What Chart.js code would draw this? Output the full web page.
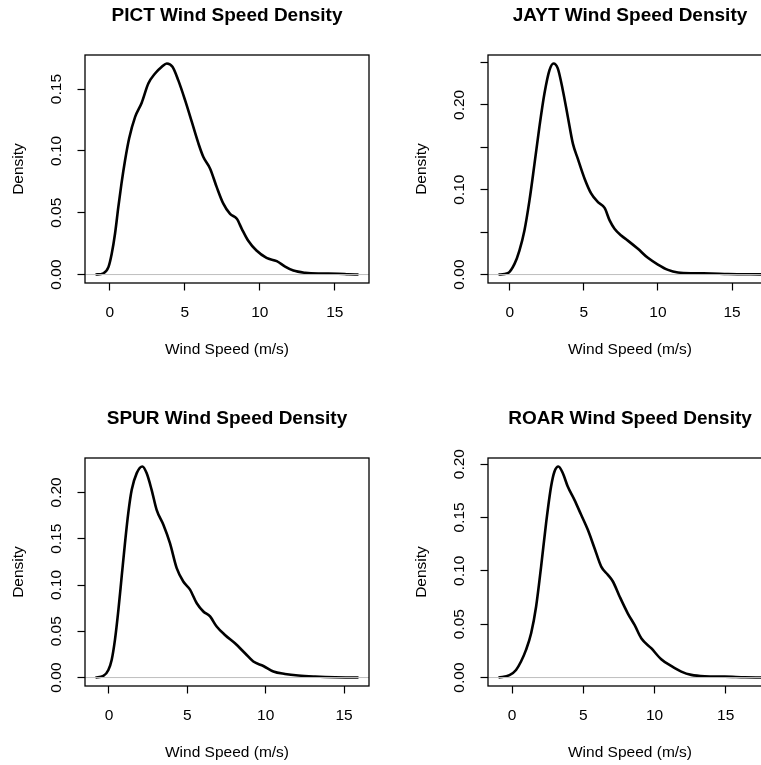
<!DOCTYPE html>
<html>
<head>
<meta charset="utf-8">
<script src="https://cdn.jsdelivr.net/npm/chart.js@4.4.1/dist/chart.umd.min.js"></script>
<style>
  html, body { margin: 0; padding: 0; background: #fff; overflow: hidden; }
  #quadro { position: relative; width: 761px; height: 765px; overflow: hidden; }
  .painel { position: absolute; width: 403px; height: 403px; }
</style>
</head>
<body>
<div id="quadro">
  <div class="painel" style="left:0;top:0"><canvas id="pict" width="403" height="403"></canvas></div>
  <div class="painel" style="left:403px;top:0"><canvas id="jayt" width="403" height="403"></canvas></div>
  <div class="painel" style="left:0;top:403px"><canvas id="spur" width="403" height="403"></canvas></div>
  <div class="painel" style="left:403px;top:403px"><canvas id="roar" width="403" height="403"></canvas></div>
</div>
<script>
// densidades (x em m/s, y = densidade)
const pictX = [-0.95, -0.43, -0.09, 0.13, 0.35, 0.57, 0.78, 1.02, 1.29, 1.69, 2.13, 2.57, 3.02, 3.47, 3.8, 4.18, 4.57, 5.02, 5.47, 5.91, 6.24, 6.69, 7.13, 7.57, 8.02, 8.47, 8.8, 9.22, 9.78, 10.45, 11.13, 11.69, 12.24, 13.02, 13.9, 15.24, 15.9, 16.58];
const pictY = [0, 0.001, 0.006, 0.0168, 0.033, 0.0545, 0.0735, 0.0924, 0.110, 0.1275, 0.139, 0.1545, 0.1626, 0.168, 0.1707, 0.168, 0.157, 0.141, 0.1234, 0.106, 0.095, 0.0856, 0.0707, 0.0573, 0.049, 0.0451, 0.037, 0.0275, 0.0194, 0.0135, 0.0108, 0.0065, 0.0032, 0.0014, 0.0008, 0.0007, 0.0003, 0];

const jaytX = [-0.76, -0.14, 0.32, 0.65, 0.99, 1.33, 1.67, 2.0, 2.34, 2.68, 2.95, 3.24, 3.58, 3.92, 4.26, 4.59, 5.05, 5.5, 5.95, 6.4, 6.74, 7.07, 7.52, 7.97, 8.65, 9.32, 10.0, 10.68, 11.35, 12.48, 13.6, 14.73, 16.99];
const jaytY = [0, 0.0015, 0.0126, 0.0283, 0.052, 0.0874, 0.1307, 0.174, 0.2134, 0.241, 0.2488, 0.243, 0.2173, 0.1858, 0.1543, 0.1366, 0.113, 0.0953, 0.0854, 0.0785, 0.0638, 0.054, 0.046, 0.040, 0.0303, 0.0197, 0.0118, 0.0055, 0.0024, 0.0015, 0.0012, 0.0006, 0.0002];

const spurX = [-0.86, -0.36, -0.04, 0.17, 0.38, 0.6, 0.81, 1.02, 1.23, 1.45, 1.77, 2.13, 2.4, 2.72, 3.04, 3.47, 3.89, 4.32, 4.74, 5.17, 5.6, 6.02, 6.45, 6.87, 7.4, 8.04, 8.68, 9.21, 9.85, 10.49, 11.23, 12.08, 13.15, 14.42, 15.92];
const spurY = [0, 0.0017, 0.0082, 0.019, 0.0407, 0.0731, 0.1092, 0.1452, 0.1776, 0.2028, 0.2209, 0.2281, 0.2209, 0.2028, 0.1812, 0.165, 0.1452, 0.1182, 0.1038, 0.095, 0.0803, 0.0714, 0.066, 0.0551, 0.046, 0.037, 0.0263, 0.0173, 0.0125, 0.0065, 0.0039, 0.0022, 0.0011, 0.0003, 0];

const roarX = [-0.95, -0.18, 0.28, 0.63, 0.98, 1.34, 1.69, 2.04, 2.39, 2.74, 2.98, 3.26, 3.56, 3.91, 4.38, 4.85, 5.32, 5.79, 6.26, 6.73, 7.08, 7.55, 8.13, 8.6, 9.07, 9.77, 10.47, 11.17, 11.88, 12.58, 13.52, 14.93, 16.33, 17.51];
const roarY = [0, 0.0022, 0.0071, 0.015, 0.0259, 0.0415, 0.0666, 0.104, 0.1447, 0.179, 0.1931, 0.1978, 0.1916, 0.179, 0.1665, 0.1525, 0.1384, 0.1212, 0.104, 0.0962, 0.09, 0.076, 0.060, 0.0493, 0.0368, 0.0275, 0.0172, 0.0109, 0.0056, 0.0025, 0.0012, 0.0009, 0.0003, 0];

// ticks e rotulos
const xTicks = [0, 5, 10, 15];
const xLabels = ["0", "5", "10", "15"];
const pictYTicks = [0, 0.05, 0.10, 0.15];
const pictYLabels = ["0.00", "0.05", "0.10", "0.15"];
const jaytYTicks = [0, 0.05, 0.10, 0.15, 0.20, 0.25];
const jaytYLabels = ["0.00", "", "0.10", "", "0.20", ""];
const spurYTicks = [0, 0.05, 0.10, 0.15, 0.20];
const spurYLabels = ["0.00", "0.05", "0.10", "0.15", "0.20"];
const roarYTicks = [0, 0.05, 0.10, 0.15, 0.20];
const roarYLabels = ["0.00", "0.05", "0.10", "0.15", "0.20"];

const fonte = "'Liberation Sans', Arial, Helvetica, sans-serif";

// caixa em volta da area do grafico (box() do R)
const caixa = {
  id: "caixa",
  afterDraw(chart) {
    const a = chart.chartArea;
    const ctx = chart.ctx;
    ctx.save();
    ctx.strokeStyle = "#000";
    ctx.lineWidth = 1.3;
    ctx.strokeRect(a.left, a.top, a.right - a.left, a.bottom - a.top);
    ctx.restore();
  },
};

function grafico(id, titulo, xs, ys, yTicks, yLabels) {
  const ctx = document.getElementById(id).getContext("2d");
  const pontos = xs.map((x, i) => ({ x: x, y: ys[i] }));

  // limites como o plot.density do R (4% de folga)
  const xr = xs[xs.length - 1] - xs[0];
  const xMin = xs[0] - 0.04 * xr;
  const xMax = xs[xs.length - 1] + 0.04 * xr;
  const yMax = Math.max(...ys);
  const yMin = -0.04 * yMax;

  return new Chart(ctx, {
    type: "line",
    data: {
      datasets: [
        {
          // linha do zero
          data: [{ x: xMin, y: 0 }, { x: xMax, y: 0 }],
          borderColor: "#bebebe",
          borderWidth: 1,
          pointRadius: 0,
          order: 0,
        },
        {
          data: pontos,
          borderColor: "#000",
          borderWidth: 2.6,
          pointRadius: 0,
          cubicInterpolationMode: "monotone",
          order: 1,
        },
      ],
    },
    options: {
      responsive: false,
      animation: false,
      devicePixelRatio: 1,
      layout: { padding: { left: 0, right: 34, top: 0, bottom: 0 } },
      plugins: {
        legend: { display: false },
        tooltip: { enabled: false },
        title: {
          display: true,
          text: titulo,
          fullSize: false,
          color: "#000",
          font: { family: fonte, size: 19, weight: "bold" },
          padding: { top: 4.6, bottom: 27.6 },
        },
      },
      scales: {
        x: {
          type: "linear",
          min: xMin,
          max: xMax,
          afterBuildTicks: (s) => { s.ticks = xTicks.map((v) => ({ value: v })); },
          afterFit: (s) => { s.height = 120; },
          border: { display: false },
          grid: { drawOnChartArea: false, tickLength: 7.5, tickColor: "#000", tickWidth: 1.2 },
          ticks: {
            color: "#000",
            padding: 13,
            maxRotation: 0,
            font: { family: fonte, size: 15.5 },
            callback: (v, i) => xLabels[i],
          },
          title: {
            display: true,
            text: "Wind Speed (m/s)",
            color: "#000",
            font: { family: fonte, size: 15.5 },
            padding: { top: 0, bottom: 43.7 },
          },
        },
        y: {
          type: "linear",
          min: yMin,
          max: yMax + 0.04 * yMax,
          afterBuildTicks: (s) => { s.ticks = yTicks.map((v) => ({ value: v })); },
          afterFit: (s) => { s.width = 85; },
          border: { display: false },
          grid: { drawOnChartArea: false, tickLength: 7.5, tickColor: "#000", tickWidth: 1.2 },
          ticks: {
            color: "#000",
            padding: 5.5,
            minRotation: 90,
            maxRotation: 90,
            crossAlign: "center",
            font: { family: fonte, size: 15.5 },
            callback: (v, i) => yLabels[i],
          },
          title: {
            display: true,
            text: "Density",
            color: "#000",
            font: { family: fonte, size: 15.5 },
            padding: { top: 9.7, bottom: 0 },
          },
        },
      },
    },
    plugins: [caixa],
  });
}

grafico("pict", "PICT Wind Speed Density", pictX, pictY, pictYTicks, pictYLabels);
grafico("jayt", "JAYT Wind Speed Density", jaytX, jaytY, jaytYTicks, jaytYLabels);
grafico("spur", "SPUR Wind Speed Density", spurX, spurY, spurYTicks, spurYLabels);
grafico("roar", "ROAR Wind Speed Density", roarX, roarY, roarYTicks, roarYLabels);
</script>
</body>
</html>
